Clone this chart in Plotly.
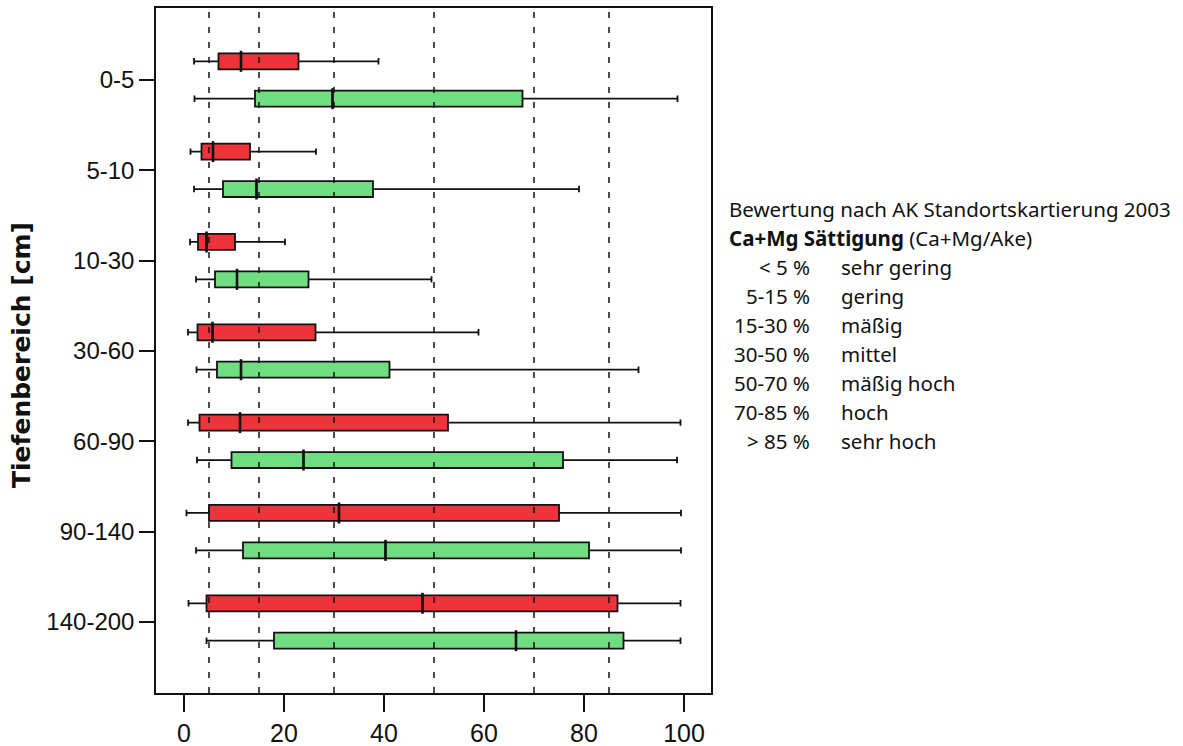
import plotly.graph_objects as go

# ---- data ----
depths = ["0-5", "5-10", "10-30", "30-60", "60-90", "90-140", "140-200"]

red_low = [2.0, 1.3, 1.2, 0.8, 0.8, 0.5, 0.9]
red_q1 = [6.9, 3.5, 2.8, 2.7, 3.1, 5.0, 4.5]
red_med = [11.4, 5.8, 4.5, 5.7, 11.2, 31.0, 47.7]
red_q3 = [22.9, 13.2, 10.2, 26.3, 52.8, 75.0, 86.7]
red_high = [38.9, 26.4, 20.2, 58.9, 99.3, 99.4, 99.3]

green_low = [2.1, 2.0, 2.4, 2.5, 2.6, 2.4, 4.5]
green_q1 = [14.2, 7.8, 6.2, 6.6, 9.5, 11.8, 18.0]
green_med = [29.7, 14.5, 10.6, 11.4, 23.9, 40.3, 66.4]
green_q3 = [67.7, 37.8, 24.9, 41.1, 75.8, 81.0, 87.9]
green_high = [98.7, 79.0, 49.5, 90.9, 98.6, 99.4, 99.3]

thresholds = [5, 15, 30, 50, 70, 85]
x_ticks = [0, 20, 40, 60, 80, 100]

legend_title = "Bewertung nach AK Standortskartierung 2003"
legend_subtitle = "<b>Ca+Mg Sättigung</b> (Ca+Mg/Ake)"
legend_ranges = ["< 5 %", "5-15 %", "15-30 %", "30-50 %", "50-70 %", "70-85 %", "> 85 %"]
legend_labels = ["sehr gering", "gering", "mäßig", "mittel", "mäßig hoch", "hoch", "sehr hoch"]

# ---- layout constants ----
W, H = 1183, 746
L, R, T, B = 156, 711, 8, 693
OFFSET = 0.207
BOXW = 0.177
RED = "#EF333A"
GREEN = "#70DD82"
INK = "#111111"
tickfam = "Liberation Sans Narrow, Arial Narrow, Liberation Sans, Arial, sans-serif"
legfam = "Noto Sans, Open Sans, sans-serif"
idx = list(range(len(depths)))

fig = go.Figure()
for low, q1, med, q3, high, col, off in [
    (red_low, red_q1, red_med, red_q3, red_high, RED, -OFFSET),
    (green_low, green_q1, green_med, green_q3, green_high, GREEN, OFFSET),
]:
    pos = [i + off for i in idx]
    fig.add_trace(go.Box(
        y=pos,
        lowerfence=low, q1=q1, median=med, q3=q3, upperfence=high,
        orientation="h", width=BOXW, whiskerwidth=0.4,
        fillcolor=col, line=dict(color=INK, width=1.8),
        hoverinfo="skip", showlegend=False,
    ))
    # thicker median stroke
    fig.add_trace(go.Scatter(
        x=med, y=pos, mode="markers",
        marker=dict(symbol="line-ns", size=15, line=dict(color=INK, width=2.6)),
        hoverinfo="skip", showlegend=False,
    ))

for t in thresholds:
    fig.add_shape(type="line", x0=t, x1=t, xref="x", y0=0, y1=1, yref="paper",
                  line=dict(color=INK, width=1.5, dash="6px,9px"), layer="above")

def px_x(p):
    return (p - L) / (R - L)

def px_y(p):
    return (B - p) / (B - T)

LEGSIZE = 20.5
annotations = [
    dict(text="Tiefenbereich [cm]", textangle=-90, x=px_x(21), y=px_y(355),
         xref="paper", yref="paper", xanchor="center", yanchor="middle", showarrow=False,
         font=dict(family="DejaVu Sans", size=25, color=INK, weight="bold")),
    dict(text=legend_title, x=px_x(727), y=px_y(209), xref="paper", yref="paper",
         xanchor="left", yanchor="middle", showarrow=False,
         font=dict(family=legfam, size=LEGSIZE, color=INK)),
    dict(text=legend_subtitle, x=px_x(727), y=px_y(238), xref="paper", yref="paper",
         xanchor="left", yanchor="middle", showarrow=False,
         font=dict(family=legfam, size=LEGSIZE, color=INK)),
]
for k, (rng, lab) in enumerate(zip(legend_ranges, legend_labels)):
    yy = 267 + 29 * k
    annotations.append(dict(text=rng, x=px_x(812), y=px_y(yy), xref="paper", yref="paper",
                            xanchor="right", yanchor="middle", showarrow=False,
                            font=dict(family=legfam, size=LEGSIZE, color=INK)))
    annotations.append(dict(text=lab, x=px_x(839), y=px_y(yy), xref="paper", yref="paper",
                            xanchor="left", yanchor="middle", showarrow=False,
                            font=dict(family=legfam, size=LEGSIZE, color=INK)))

fig.update_layout(
    width=W, height=H,
    margin=dict(l=L, r=W - R, t=T, b=H - B, pad=0),
    paper_bgcolor="white", plot_bgcolor="white",
    boxmode="overlay",
    annotations=annotations,
    xaxis=dict(range=[-5.6, 105.4], tickvals=x_ticks, ticks="outside", ticklen=17,
               tickwidth=1.5, tickcolor=INK, showgrid=False, zeroline=False,
               showline=True, linecolor=INK, linewidth=1.5, mirror=True,
               tickfont=dict(family=tickfam, size=25, color=INK), automargin=False),
    yaxis=dict(range=[6.786, -0.797], tickvals=idx, ticktext=depths, ticks="outside",
               ticklen=15, tickwidth=1.5, tickcolor=INK, showgrid=False,
               zeroline=False, showline=True, linecolor=INK, linewidth=1.5,
               mirror=True, tickfont=dict(family=tickfam, size=24, color=INK),
               automargin=False),
)

fig.write_html("out.html", config={"displayModeBar": False},
               post_script="document.body.style.margin='0';document.body.style.padding='0';")
